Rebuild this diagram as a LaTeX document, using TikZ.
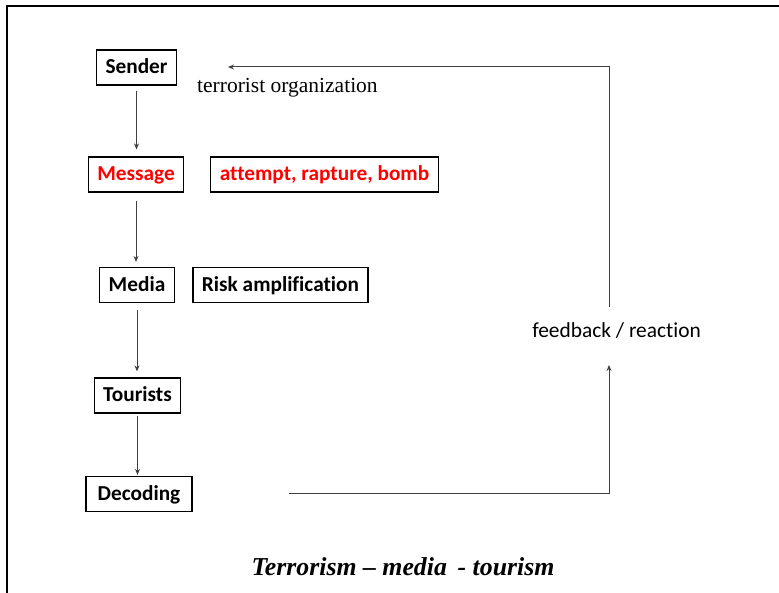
\documentclass[tikz,border=0pt]{standalone}
\usepackage{fontspec}
\setmainfont{Liberation Serif}
\newfontfamily\calibri[Ligatures=NoCommon]{Carlito}
\usetikzlibrary{arrows.meta}
\tikzstyle{box} = [rectangle, draw=black, line width=1.2pt, inner xsep=9pt, inner ysep=0pt, minimum height=35pt, text height=15pt, text depth=2pt, text centered, font=\calibri\bfseries\fontsize{21.3}{25}\selectfont]
\tikzstyle{boxred} = [box, text=red]
\tikzstyle{arrow} = [->, >={Stealth[length=6pt, width=5pt]}, draw=black!75, line width=1pt]

\begin{document}
\begin{tikzpicture}[x=1pt, y=-1pt]
\useasboundingbox (0,0) rectangle (779,593);
\draw [line width=2.4pt] (7,593) -- (7,6) -- (779,6);

\node (sender) [box] at (136.5,67.5) {Sender};
\node (org) [anchor=base west, inner sep=0pt, font=\fontsize{21.5}{25}\selectfont] at (197,93) {terrorist organization};
\node (message) [boxred] at (136,174.5) {Message};
\node (attempt) [boxred] at (324.5,174.5) {attempt, rapture, bomb};
\node (media) [box] at (137,285) {Media};
\node (risk) [box] at (280.5,285) {Risk amplification};
\node (tourists) [box] at (137.5,395.5) {Tourists};
\node (decoding) [box, minimum width=106pt] at (139,494) {Decoding};
\node (feedback) [anchor=base, inner sep=0pt, font=\calibri\fontsize{21.4}{25}\selectfont] at (616.5,338) {feedback / reaction};
\node (title) [anchor=base, inner sep=0pt, font=\bfseries\itshape\fontsize{25.8}{30}\selectfont] at (403,575) {Terrorism -- media \,- tourism};

\coordinate (fbstart) at (289,493);
\coordinate (fbup) at (609,365);
\coordinate (fbtop) at (609,307);
\coordinate (orgend) at (228,67);

\draw [arrow, shorten <=5pt, shorten >=7pt] (sender.south) -- (sender.south |- message.north);
\draw [arrow, shorten <=8pt, shorten >=5pt] (message.south) -- (message.south |- media.north);
\draw [arrow, shorten <=7pt, shorten >=6pt] (media.south) -- (media.south |- tourists.north);
\draw [arrow, shorten <=2pt, shorten >=1pt] (tourists.south) -- (tourists.south |- decoding.north);
\draw [arrow] (fbstart) -| (fbup);
\draw [arrow] (fbtop) |- (orgend);

\end{tikzpicture}
\end{document}
